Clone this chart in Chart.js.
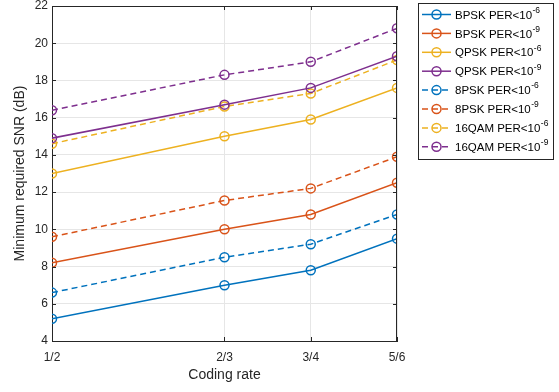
<!DOCTYPE html>
<html><head><meta charset="utf-8">
<script src="https://cdn.jsdelivr.net/npm/chart.js@4"></script>
<style>html,body{margin:0;padding:0;background:#fff}#wrap{width:559px;height:392px;position:relative}</style>
</head><body><div id="wrap"><canvas id="c"></canvas></div>
<script>
const rateLabels = ['1/2', '2/3', '3/4', '5/6'];
const rates = [1/2, 2/3, 3/4, 5/6];
const yTicks = [4, 6, 8, 10, 12, 14, 16, 18, 20, 22];
const bpsk6 = [5.2, 7.0, 7.8, 9.5];
const bpsk9 = [8.2, 10.0, 10.8, 12.5];
const qpsk6 = [13.0, 15.0, 15.9, 17.6];
const qpsk9 = [14.9, 16.7, 17.6, 19.3];
const psk8_6 = [6.6, 8.5, 9.2, 10.8];
const psk8_9 = [9.6, 11.55, 12.2, 13.9];
const qam16_6 = [14.6, 16.6, 17.3, 19.1];
const qam16_9 = [16.4, 18.3, 19.0, 20.8];
const seriesNames = ['BPSK', 'BPSK', 'QPSK', 'QPSK', '8PSK', '8PSK', '16QAM', '16QAM'];
const seriesExp = ['-6', '-9', '-6', '-9', '-6', '-9', '-6', '-9'];

const C = ['#0072BD', '#D95319', '#EDB120', '#7E2F8E'];
const FONT = '"Liberation Sans", Arial, Helvetica, sans-serif';
const TXT = '#262626';

function mk(vals, color, dashed, name, exp) {
  return {
    label: name + ' PER<10' + exp,
    data: vals.map((v, i) => ({x: rates[i], y: v})),
    borderColor: color, backgroundColor: 'rgba(0,0,0,0)',
    borderWidth: 1.5, borderDash: dashed ? [6, 4] : [],
    pointStyle: 'circle', pointRadius: 4.5, pointBorderWidth: 1.5,
    pointBorderColor: color, pointBackgroundColor: 'rgba(0,0,0,0)',
    pointHoverRadius: 4.5, tension: 0, fill: false,
    _dashed: dashed, _name: name, _exp: exp
  };
}
const datasets = [
  mk(bpsk6, C[0], false, seriesNames[0], seriesExp[0]),
  mk(bpsk9, C[1], false, seriesNames[1], seriesExp[1]),
  mk(qpsk6, C[2], false, seriesNames[2], seriesExp[2]),
  mk(qpsk9, C[3], false, seriesNames[3], seriesExp[3]),
  mk(psk8_6, C[0], true, seriesNames[4], seriesExp[4]),
  mk(psk8_9, C[1], true, seriesNames[5], seriesExp[5]),
  mk(qam16_6, C[2], true, seriesNames[6], seriesExp[6]),
  mk(qam16_9, C[3], true, seriesNames[7], seriesExp[7])
];

const boxPlugin = {
  id: 'boxTicks',
  afterDraw(chart) {
    const ctx = chart.ctx, a = chart.chartArea;
    const xs = chart.scales.x, ys = chart.scales.y;
    ctx.save();
    ctx.strokeStyle = TXT; ctx.lineWidth = 1;
    ctx.beginPath();
    ctx.moveTo(a.left, a.top + 0.5); ctx.lineTo(a.right, a.top + 0.5);
    ctx.moveTo(a.right - 0.5, a.top); ctx.lineTo(a.right - 0.5, a.bottom);
    const L = 4;
    rates.forEach(r => {
      const px = Math.round(xs.getPixelForValue(r)) + 0.5;
      ctx.moveTo(px, a.bottom); ctx.lineTo(px, a.bottom - L);
      ctx.moveTo(px, a.top); ctx.lineTo(px, a.top + L);
    });
    yTicks.forEach(t => {
      const py = Math.round(ys.getPixelForValue(t)) + 0.5;
      ctx.moveTo(a.left, py); ctx.lineTo(a.left + L, py);
      ctx.moveTo(a.right, py); ctx.lineTo(a.right - L, py);
    });
    ctx.stroke();

    // legend
    const bx = 418.5, by = 3.5, bw = 135, bh = 156;
    ctx.fillStyle = '#fff';
    ctx.fillRect(bx, by, bw, bh);
    ctx.strokeStyle = TXT; ctx.lineWidth = 1;
    ctx.strokeRect(bx, by, bw, bh);
    chart.data.datasets.forEach((ds, i) => {
      const cy = 14.5 + i * 18.9;
      ctx.strokeStyle = ds.borderColor; ctx.lineWidth = 1.5;
      ctx.setLineDash(ds._dashed ? [6, 4] : []);
      ctx.beginPath(); ctx.moveTo(422, cy); ctx.lineTo(451, cy); ctx.stroke();
      ctx.setLineDash([]);
      ctx.beginPath(); ctx.arc(436.5, cy, 4.5, 0, Math.PI * 2); ctx.stroke();
      ctx.fillStyle = '#000';
      ctx.font = '11.5px ' + FONT;
      ctx.textBaseline = 'middle'; ctx.textAlign = 'left';
      const main = ds._name + ' PER<10';
      ctx.fillText(main, 455, cy + 1);
      const w = ctx.measureText(main).width;
      ctx.font = '8.5px ' + FONT;
      ctx.fillText(ds._exp, 455 + w + 0.5, cy - 4);
    });
    ctx.restore();
  }
};

new Chart(document.getElementById('c'), {
  type: 'line',
  data: {datasets},
  plugins: [boxPlugin],
  options: {
    responsive: true, maintainAspectRatio: false, animation: false, devicePixelRatio: 1,
    layout: {padding: {left: 12, right: 162, top: 0, bottom: 8}},
    plugins: {legend: {display: false}, tooltip: {enabled: false}},
    scales: {
      x: {
        type: 'linear', min: 1/2, max: 5/6,
        afterBuildTicks: (axis) => { axis.ticks = rates.map(v => ({value: v})); },
        afterFit: (s) => { s.height = 43; },
        ticks: {
          autoSkip: false, maxRotation: 0, color: TXT, padding: 9,
          font: {family: FONT, size: 12},
          callback: (v) => {
            let best = 0;
            rates.forEach((r, i) => { if (Math.abs(r - v) < Math.abs(rates[best] - v)) best = i; });
            return rateLabels[best];
          }
        },
        grid: {color: '#e6e6e6', drawTicks: false, lineWidth: 1},
        border: {color: TXT, width: 1},
        title: {display: true, text: 'Coding rate', color: TXT, font: {family: FONT, size: 14}, padding: {top: 0, bottom: 0}}
      },
      y: {
        min: 4, max: 22,
        afterBuildTicks: (axis) => { axis.ticks = yTicks.map(v => ({value: v})); },
        afterFit: (s) => { s.width = 40; },
        ticks: {color: TXT, padding: 4, font: {family: FONT, size: 12, lineHeight: 0.01}},
        grid: {color: '#e6e6e6', drawTicks: false, lineWidth: 1},
        border: {color: TXT, width: 1},
        title: {display: true, text: 'Minimum required SNR (dB)', color: TXT, font: {family: FONT, size: 14}, padding: {top: 0, bottom: 0}}
      }
    }
  }
});
</script>
</body></html>
